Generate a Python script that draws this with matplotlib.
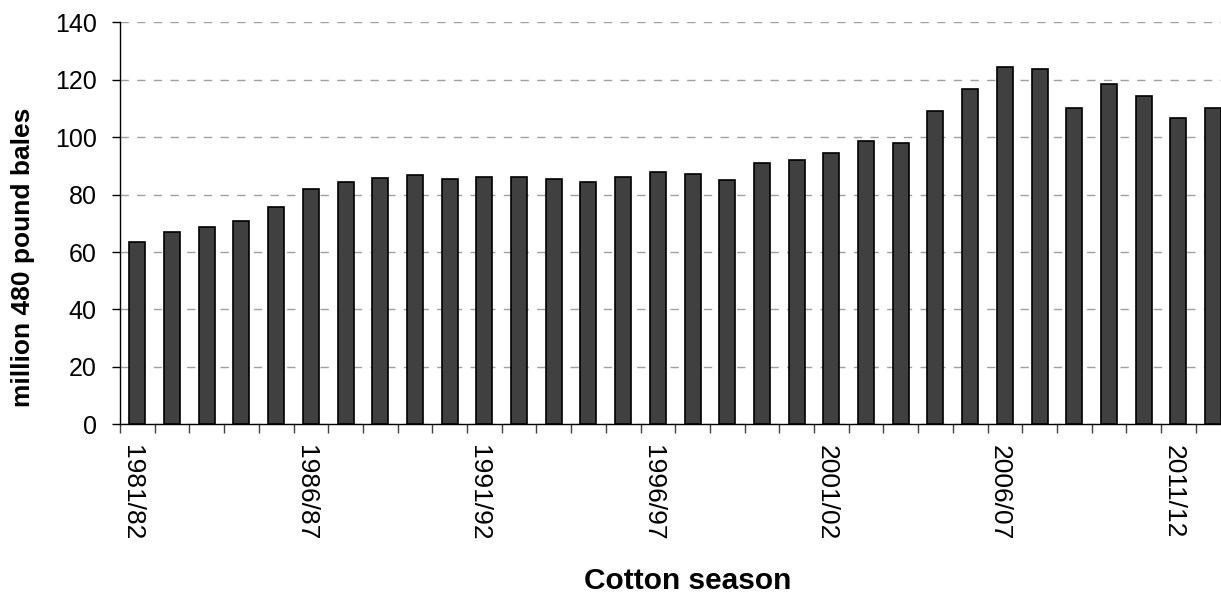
import matplotlib
matplotlib.use("Agg")
import matplotlib.pyplot as plt
import matplotlib.transforms as mtransforms
import numpy as np

plt.rcParams['font.family'] = ['Liberation Sans', 'DejaVu Sans']

# cotton seasons 1981/82 .. 2012/13
seasons = ["1981/82", "1982/83", "1983/84", "1984/85", "1985/86",
           "1986/87", "1987/88", "1988/89", "1989/90", "1990/91",
           "1991/92", "1992/93", "1993/94", "1994/95", "1995/96",
           "1996/97", "1997/98", "1998/99", "1999/00", "2000/01",
           "2001/02", "2002/03", "2003/04", "2004/05", "2005/06",
           "2006/07", "2007/08", "2008/09", "2009/10", "2010/11",
           "2011/12", "2012/13"]
# million 480 pound bales
bales = [63.4, 66.9, 68.6, 70.9, 75.8,
         82.0, 84.5, 85.7, 86.8, 85.5,
         86.2, 86.2, 85.5, 84.5, 86.2,
         88.0, 87.3, 85.0, 90.9, 92.0,
         94.5, 98.5, 97.9, 109.1, 116.7,
         124.3, 123.8, 110.3, 118.4, 114.5,
         106.8, 110.3]
label_every = 5

fig = plt.figure(figsize=(12.21, 5.96), dpi=100)
ax = fig.add_axes([0.0983, 0.2881, 0.9094, 0.6745])

x = np.arange(len(seasons))
ax.bar(x, bales, width=0.46, color="#404040", edgecolor="black",
       linewidth=1.2, zorder=3)

ax.set_xlim(-0.5, len(seasons) - 0.5)
ax.set_ylim(0, 140)
ax.set_yticks(np.arange(0, 141, 20))
ax.yaxis.grid(True, color="#a0a0a0", linestyle=(0, (6, 6)), linewidth=1, zorder=0)

# labels at every 5th season, tick marks between the categories
ax.set_xticks(x[::label_every])
ax.set_xticklabels(seasons[::label_every], rotation=270, fontsize=19)
ax.set_xticks(np.arange(-0.5, len(seasons)), minor=True)
ax.tick_params(axis="x", which="major", length=0, pad=15)
ax.tick_params(axis="x", which="minor", length=6.3, width=1, color="#404040")
ax.tick_params(axis="y", length=5.8, width=1, labelsize=18, pad=11)

# nudge the rotated labels a little to the left, like the original
shift = mtransforms.ScaledTranslation(-5 / 100, 0, fig.dpi_scale_trans)
for lab in ax.get_xticklabels():
    lab.set_transform(lab.get_transform() + shift)

for s in ["top", "right"]:
    ax.spines[s].set_visible(False)
ax.spines["left"].set_linewidth(1)
ax.spines["bottom"].set_linewidth(1)

fig.text(23 / 1221, 1 - 257.5 / 596, "million 480 pound bales", rotation=90,
         ha="center", va="center", fontsize=19, fontweight="bold")
fig.text(688 / 1221, 1 - 581 / 596, "Cotton season",
         ha="center", va="center", fontsize=21.5, fontweight="bold")

fig.savefig("out.png", dpi=100)
